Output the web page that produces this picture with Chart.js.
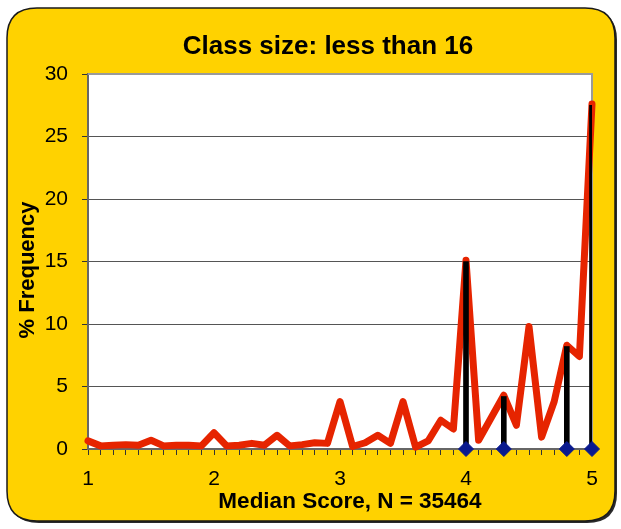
<!DOCTYPE html>
<html>
<head>
<meta charset="utf-8">
<script src="https://cdn.jsdelivr.net/npm/chart.js@4.4.1/dist/chart.umd.min.js"></script>
<style>
html,body{margin:0;padding:0;background:#ffffff;}
#wrap{width:621px;height:529px;position:relative;}
</style>
</head>
<body>
<div id="wrap"><canvas id="c" width="621" height="529"></canvas></div>
<script>
// ---- data ----
const chartTitle = 'Class size: less than 16';
const xAxisTitle = 'Median Score, N = 35464';
const yAxisTitle = '% Frequency';

const scores = [1.0,1.1,1.2,1.3,1.4,1.5,1.6,1.7,1.8,1.9,
                2.0,2.1,2.2,2.3,2.4,2.5,2.6,2.7,2.8,2.9,
                3.0,3.1,3.2,3.3,3.4,3.5,3.6,3.7,3.8,3.9,
                4.0,4.1,4.2,4.3,4.4,4.5,4.6,4.7,4.8,4.9,5.0];
const frequency = [0.65,0.25,0.3,0.35,0.3,0.7,0.25,0.3,0.3,0.25,
                   1.3,0.25,0.3,0.45,0.3,1.1,0.25,0.35,0.5,0.45,
                   3.8,0.2,0.5,1.1,0.45,3.8,0.15,0.65,2.3,1.6,
                   15.1,0.7,2.5,4.3,1.9,9.8,0.95,3.8,8.3,7.4,27.6];

const markerScores = [4.0, 4.3, 4.8, 5.0];
const markerValues = [15.0, 4.2, 8.2, 27.5];
const markerBase = [0, 0, 0, 0];

const xTickLabels = [1, 2, 3, 4, 5];
const yTickLabels = [0, 5, 10, 15, 20, 25, 30];

// ---- styling ----
const FONT = "'Liberation Sans', Arial, Helvetica, sans-serif";

function roundRectPath(ctx, x, y, w, h, r) {
  ctx.beginPath();
  ctx.moveTo(x + r, y);
  ctx.lineTo(x + w - r, y);
  ctx.quadraticCurveTo(x + w, y, x + w, y + r);
  ctx.lineTo(x + w, y + h - r);
  ctx.quadraticCurveTo(x + w, y + h, x + w - r, y + h);
  ctx.lineTo(x + r, y + h);
  ctx.quadraticCurveTo(x, y + h, x, y + h - r);
  ctx.lineTo(x, y + r);
  ctx.quadraticCurveTo(x, y, x + r, y);
  ctx.closePath();
}

const framePlugin = {
  id: 'frame',
  beforeDraw(chart) {
    const ctx = chart.ctx;
    const a = chart.chartArea;
    ctx.save();
    ctx.fillStyle = '#ffffff';
    ctx.fillRect(0, 0, chart.width, chart.height);
    roundRectPath(ctx, 9, 10, 608, 513, 30);
    ctx.fillStyle = '#2a2a2a';
    ctx.fill();
    roundRectPath(ctx, 7, 8, 608, 513, 30);
    ctx.fillStyle = '#FFD200';
    ctx.fill();
    ctx.lineWidth = 1.5;
    ctx.strokeStyle = '#1a1a1a';
    ctx.stroke();
    ctx.fillStyle = '#ffffff';
    ctx.fillRect(a.left, a.top, a.right - a.left, a.bottom - a.top);
    ctx.restore();
  },
  beforeDatasetsDraw(chart) {
    const ctx = chart.ctx;
    const a = chart.chartArea;
    ctx.save();
    ctx.strokeStyle = '#9a9a9a';
    ctx.lineWidth = 2;
    ctx.beginPath();
    ctx.moveTo(a.left, a.top);
    ctx.lineTo(a.right, a.top);
    ctx.lineTo(a.right, a.bottom);
    ctx.stroke();
    ctx.restore();
  },
  afterDraw(chart) {
    const ctx = chart.ctx;
    ctx.save();
    ctx.fillStyle = '#000000';
    ctx.textAlign = 'center';
    ctx.textBaseline = 'middle';
    ctx.font = 'bold 26px ' + FONT;
    ctx.fillText(chartTitle, 328, 47);
    ctx.font = 'bold 22.5px ' + FONT;
    ctx.fillText(xAxisTitle, 350, 502);
    ctx.translate(28, 270);
    ctx.rotate(-Math.PI / 2);
    ctx.font = 'bold 22px ' + FONT;
    ctx.fillText(yAxisTitle, 0, 0);
    ctx.restore();
  }
};

const lineData = scores.map((s, i) => ({ x: s, y: frequency[i] }));
const barData = markerScores.map((s, i) => ({ x: s, y: markerValues[i] }));
const diamondData = markerScores.map((s, i) => ({ x: s, y: markerBase[i] }));

new Chart(document.getElementById('c'), {
  type: 'line',
  data: {
    datasets: [
      {
        type: 'scatter',
        label: 'markers',
        data: diamondData,
        pointStyle: 'rectRot',
        pointRadius: 7.5,
        pointBackgroundColor: '#0A1A8E',
        pointBorderColor: '#0A1A8E',
        showLine: false,
        clip: false,
        order: 0
      },
      {
        type: 'bar',
        label: 'drops',
        data: barData,
        backgroundColor: '#000000',
        barThickness: 5,
        grouped: false,
        order: 1
      },
      {
        type: 'line',
        label: 'frequency',
        data: lineData,
        borderColor: '#E62400',
        borderWidth: 7,
        borderJoinStyle: 'round',
        borderCapStyle: 'round',
        pointRadius: 0,
        tension: 0,
        fill: false,
        clip: false,
        order: 2
      }
    ]
  },
  options: {
    responsive: false,
    animation: false,
    devicePixelRatio: 1,
    layout: { padding: { left: 0, right: 29, top: 74, bottom: 0 } },
    plugins: {
      legend: { display: false },
      title: { display: false },
      tooltip: { enabled: false }
    },
    scales: {
      x: {
        type: 'linear',
        min: 1,
        max: 5,
        offset: false,
        afterFit(scale) { scale.height = 80; },
        afterBuildTicks(scale) { scale.ticks = scores.map(v => ({ value: v })); },
        grid: {
          offset: false,
          drawOnChartArea: false,
          drawTicks: true,
          tickLength: 6,
          tickColor: '#333333',
          tickWidth: 1
        },
        border: { display: true, color: '#666666', width: 2 },
        ticks: {
          autoSkip: false,
          maxRotation: 0,
          padding: 12,
          color: '#000000',
          font: { family: FONT, size: 21 },
          callback(value) {
            const r = Math.round(value * 10) / 10;
            return xTickLabels.includes(r) ? String(r) : '';
          }
        }
      },
      y: {
        type: 'linear',
        min: 0,
        max: 30,
        afterFit(scale) { scale.width = 88; },
        afterBuildTicks(scale) { scale.ticks = yTickLabels.map(v => ({ value: v })); },
        grid: {
          color: '#555555',
          lineWidth: 1,
          drawTicks: true,
          tickLength: 6,
          tickColor: '#333333'
        },
        border: { display: true, color: '#666666', width: 2 },
        ticks: {
          padding: 14,
          color: '#000000',
          font: { family: FONT, size: 21 }
        }
      }
    }
  },
  plugins: [framePlugin]
});
</script>
</body>
</html>
